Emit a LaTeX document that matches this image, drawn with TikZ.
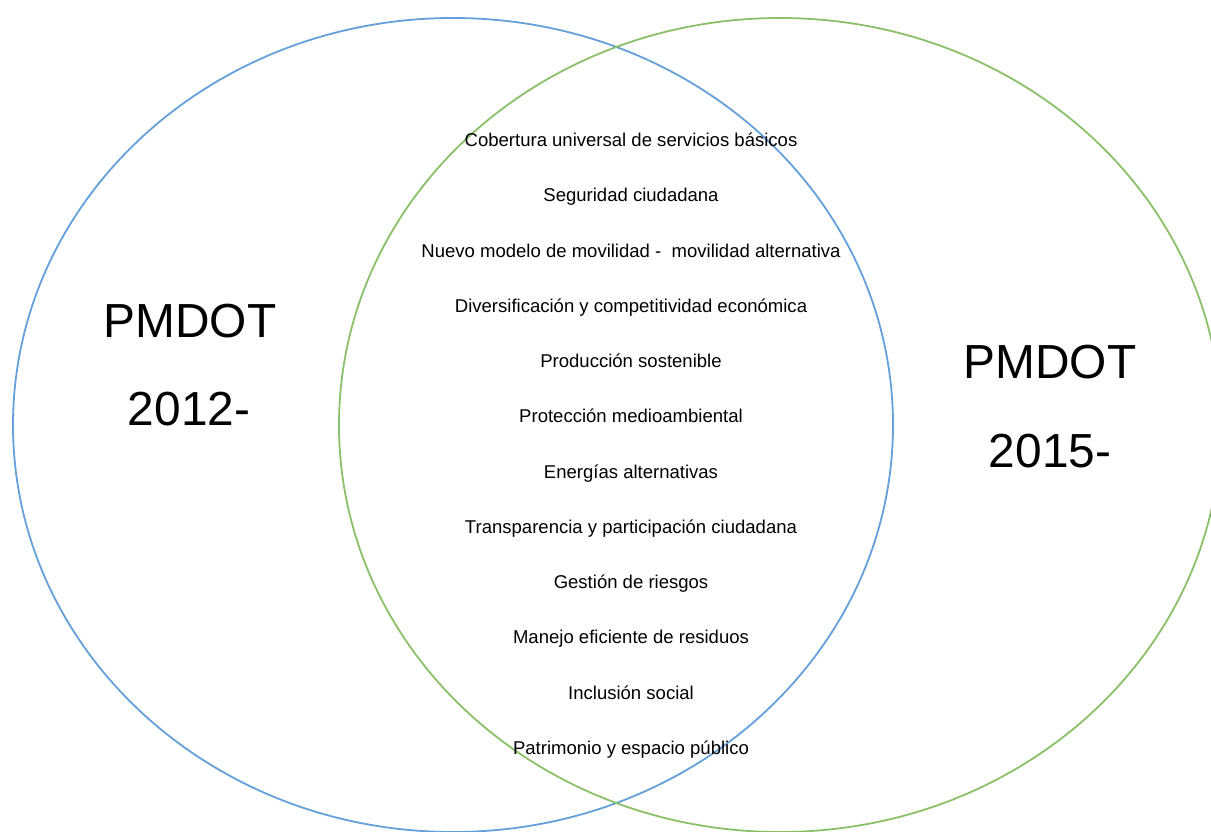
\documentclass[tikz,border=0pt]{standalone}
\usepackage{fontspec}
\setmainfont{Liberation Sans}
\definecolor{vennblue}{RGB}{100,160,218}
\definecolor{venngreen}{RGB}{138,192,104}

\begin{document}
\begin{tikzpicture}[
  x=0.5bp, y=0.5bp,
  ring/.style={line width=0.9bp},
  plan/.style={font=\fontsize{24}{28}\selectfont, inner sep=0pt},
  item/.style={font=\fontsize{9.3}{11}\selectfont, anchor=base, inner sep=0pt}
]
  \useasboundingbox (0,0) rectangle (1211,831);

  % Los dos conjuntos
  \draw[ring, vennblue] (453,406) ellipse [x radius=440, y radius=407];
  \draw[ring, venngreen] (780,406) ellipse [x radius=441, y radius=407];

  % Planes
  \node[plan] (p1) at (190,510) {PMDOT};
  \node[plan] (a1) at (189,422) {2012-};
  \node[plan] (p2) at (1050,469) {PMDOT};
  \node[plan] (a2) at (1050,380) {2015-};

  % Ejes comunes
  \foreach \txt [count=\i] in {
      Cobertura universal de servicios básicos,
      Seguridad ciudadana,
      Nuevo modelo de movilidad -\ \ movilidad alternativa,
      Diversificación y competitividad económica,
      Producción sostenible,
      Protección medioambiental,
      Energías alternativas,
      Transparencia y participación ciudadana,
      Gestión de riesgos,
      Manejo eficiente de residuos,
      Inclusión social,
      Patrimonio y espacio público}
    \node[item] (t\i) at (631,{739.8-55.27*\i}) {\txt};
\end{tikzpicture}
\end{document}
